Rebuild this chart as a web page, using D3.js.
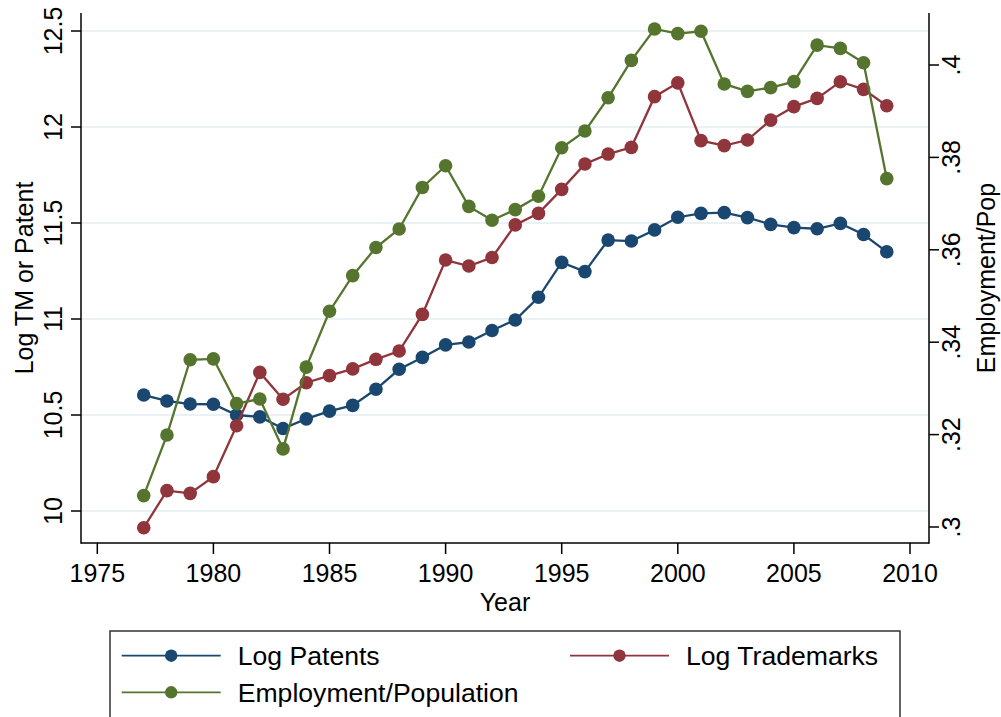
<!DOCTYPE html>
<html>
<head>
<meta charset="utf-8">
<script src="https://cdn.jsdelivr.net/npm/d3@7"></script>
<style>
  body { margin: 0; background: #fff; }
  svg { display: block; font-family: "Liberation Sans", Arial, Helvetica, sans-serif; }
</style>
</head>
<body>
<div id="chart"></div>
<script>
// data
var years = [1977, 1978, 1979, 1980, 1981, 1982, 1983, 1984, 1985, 1986, 1987, 1988, 1989, 1990, 1991, 1992, 1993,
             1994, 1995, 1996, 1997, 1998, 1999, 2000, 2001, 2002, 2003, 2004, 2005, 2006, 2007, 2008, 2009];
var logPatents = [10.604, 10.573, 10.557, 10.556, 10.50, 10.49, 10.43, 10.48, 10.52, 10.55, 10.634, 10.738, 10.80,
                  10.865, 10.88, 10.94, 10.995, 11.113, 11.295, 11.247, 11.411, 11.406, 11.464, 11.53, 11.55, 11.554,
                  11.528, 11.493, 11.476, 11.47, 11.498, 11.44, 11.35];
var logTrademarks = [9.913, 10.106, 10.092, 10.179, 10.444, 10.722, 10.582, 10.668, 10.705, 10.74, 10.79, 10.833, 11.024,
                     11.307, 11.276, 11.32, 11.49, 11.55, 11.675, 11.807, 11.859, 11.894, 12.158, 12.23, 11.929, 11.903,
                     11.932, 12.036, 12.106, 12.149, 12.236, 12.196, 12.111];
var empPop = [0.3068, 0.3199, 0.3362, 0.3364, 0.3267, 0.3277, 0.3169, 0.3346, 0.3467, 0.3544, 0.3605, 0.3645, 0.3735,
              0.3782, 0.3694, 0.3664, 0.3687, 0.3716, 0.3821, 0.3857, 0.3929, 0.4010, 0.4078, 0.4068, 0.4073, 0.3959,
              0.3943, 0.3951, 0.3964, 0.4043, 0.4036, 0.4005, 0.3754];
var xTicks = [1975, 1980, 1985, 1990, 1995, 2000, 2005, 2010];
var leftTicks = [10, 10.5, 11, 11.5, 12, 12.5];
var rightTicks = [0.3, 0.32, 0.34, 0.36, 0.38, 0.4];
var seriesNames = ["Log Patents", "Log Trademarks", "Employment/Population"];

var width = 1001, height = 717;
var plot = {left: 81, right: 929, top: 13, bottom: 543};
var colors = ["#1a476f", "#90353b", "#55752f"];
var font = 25;

var svg = d3.select("#chart").append("svg")
  .attr("width", width)
  .attr("height", height);

var x = d3.scaleLinear().domain([1975, 2010]).range([97.3, 910]);
var yL = d3.scaleLinear().domain([10, 12.5]).range([511, 31]);
var yR = d3.scaleLinear().domain([0.3, 0.4]).range([527, 65]);

// grid
svg.append("g").selectAll("line")
  .data(leftTicks)
  .enter().append("line")
  .attr("x1", plot.left).attr("x2", plot.right)
  .attr("y1", yL).attr("y2", yL)
  .attr("stroke", "#e3ecef")
  .attr("stroke-width", 1.6);

// axes lines
var axes = svg.append("g").attr("stroke", "#000").attr("stroke-width", 1.5);
axes.append("line").attr("x1", plot.left).attr("x2", plot.left).attr("y1", plot.top).attr("y2", plot.bottom + 0.75);
axes.append("line").attr("x1", plot.right).attr("x2", plot.right).attr("y1", plot.top).attr("y2", plot.bottom + 0.75);
axes.append("line").attr("x1", plot.left).attr("x2", plot.right).attr("y1", plot.bottom).attr("y2", plot.bottom);

// x ticks
var gx = svg.append("g").selectAll("g").data(xTicks).enter().append("g");
gx.append("line")
  .attr("x1", x).attr("x2", x)
  .attr("y1", plot.bottom).attr("y2", plot.bottom + 11)
  .attr("stroke", "#000").attr("stroke-width", 1.5);
gx.append("text")
  .attr("x", x).attr("y", 582)
  .attr("text-anchor", "middle")
  .style("font-size", font + "px")
  .text(function(d) { return d; });

// left ticks
var gl = svg.append("g").selectAll("g").data(leftTicks).enter().append("g");
gl.append("line")
  .attr("x1", plot.left - 10).attr("x2", plot.left)
  .attr("y1", yL).attr("y2", yL)
  .attr("stroke", "#000").attr("stroke-width", 1.5);
gl.append("text")
  .attr("transform", function(d) { return "translate(62," + yL(d) + ") rotate(-90)"; })
  .attr("text-anchor", "middle")
  .style("font-size", font + "px")
  .text(function(d) { return d; });

// right ticks
var gr = svg.append("g").selectAll("g").data(rightTicks).enter().append("g");
gr.append("line")
  .attr("x1", plot.right).attr("x2", plot.right + 10)
  .attr("y1", yR).attr("y2", yR)
  .attr("stroke", "#000").attr("stroke-width", 1.5);
gr.append("text")
  .attr("transform", function(d) { return "translate(960," + yR(d) + ") rotate(-90)"; })
  .attr("text-anchor", "middle")
  .style("font-size", font + "px")
  .text(function(d) { return d3.format(".2~f")(d).replace(/^0/, ""); });

// axis titles
svg.append("text")
  .attr("x", (plot.left + plot.right) / 2).attr("y", 611)
  .attr("text-anchor", "middle")
  .style("font-size", font + "px")
  .text("Year");
svg.append("text")
  .attr("transform", "translate(33," + (plot.top + plot.bottom) / 2 + ") rotate(-90)")
  .attr("text-anchor", "middle")
  .style("font-size", font + "px")
  .text("Log TM or Patent");
svg.append("text")
  .attr("transform", "translate(995," + (plot.top + plot.bottom) / 2 + ") rotate(-90)")
  .attr("text-anchor", "middle")
  .style("font-size", font + "px")
  .text("Employment/Pop");

// series
var series = [
  {vals: logPatents, y: yL},
  {vals: logTrademarks, y: yL},
  {vals: empPop, y: yR}
];

series.forEach(function(s, i) {
  var pts = years.map(function(yr, j) { return [yr, s.vals[j]]; });
  var line = d3.line()
    .x(function(d) { return x(d[0]); })
    .y(function(d) { return s.y(d[1]); });
  var g = svg.append("g");
  g.append("path")
    .attr("d", line(pts))
    .attr("fill", "none")
    .attr("stroke", colors[i])
    .attr("stroke-width", 2.3);
  g.selectAll("circle")
    .data(pts)
    .enter().append("circle")
    .attr("cx", function(d) { return x(d[0]); })
    .attr("cy", function(d) { return s.y(d[1]); })
    .attr("r", 6.8)
    .attr("fill", colors[i]);
});

// legend
var legend = svg.append("g");
legend.append("rect")
  .attr("x", 110).attr("y", 631)
  .attr("width", 790).attr("height", 100)
  .attr("fill", "#fff")
  .attr("stroke", "#333")
  .attr("stroke-width", 1.5);

var legendPos = [
  {x: 121.7, y: 655.7},
  {x: 570, y: 655.7},
  {x: 121.7, y: 692.3}
];

var li = legend.selectAll("g.item")
  .data(seriesNames)
  .enter().append("g")
  .attr("class", "item")
  .attr("transform", function(d, i) { return "translate(" + legendPos[i].x + "," + legendPos[i].y + ")"; });

li.append("line")
  .attr("x1", 0).attr("x2", 99)
  .attr("stroke", function(d, i) { return colors[i]; })
  .attr("stroke-width", 1.7);
li.append("circle")
  .attr("cx", 49.5).attr("r", 6.2)
  .attr("fill", function(d, i) { return colors[i]; });
li.append("text")
  .attr("x", 116).attr("y", 9.5)
  .style("font-size", "26.6px")
  .text(function(d) { return d; });
</script>
</body>
</html>
